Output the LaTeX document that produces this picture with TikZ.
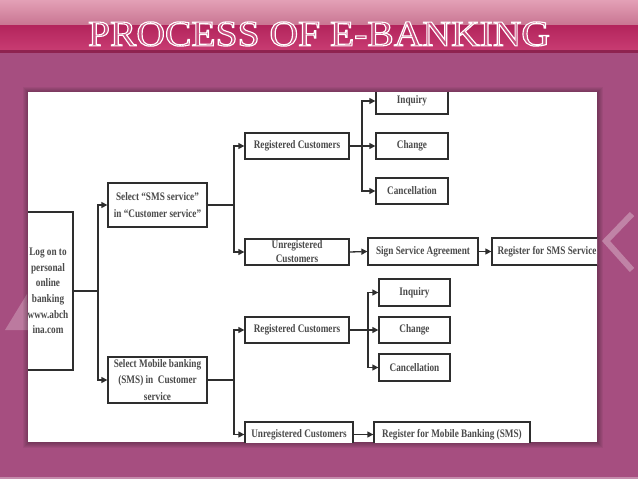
\documentclass[tikz,border=0pt]{standalone}
\usepackage{fontspec}
\setmainfont{Liberation Serif}
\newfontfamily\boxfont[FakeStretch=0.8]{Liberation Serif}
\usepackage{graphicx}
\usetikzlibrary{arrows.meta}
\definecolor{bgpurple}{HTML}{A64E80}
\definecolor{toplight}{HTML}{E3A0B6}
\definecolor{topmid}{HTML}{C97592}
\definecolor{bandtop}{HTML}{B3245C}
\definecolor{bandbot}{HTML}{C83C72}
\definecolor{banddark}{HTML}{8E2350}
\definecolor{titlefill}{HTML}{C9507F}
\definecolor{boxgray}{HTML}{2E2E2E}
\definecolor{textgray}{HTML}{4A4A4A}
\tikzset{
  box/.style={draw=boxgray, line width=1.3pt, fill=white, text=textgray,
    align=center, inner sep=0pt,
    font=\boxfont\bfseries\fontsize{11.5}{14}\selectfont},
  link/.style={draw=boxgray, line width=1.3pt},
  arr/.style={link, -{Triangle[length=6pt,width=6pt]}}
}
\begin{document}
\begin{tikzpicture}[x=1pt,y=-1pt]
\useasboundingbox (0,0) rectangle (638,479);
% background
\fill[bgpurple] (0,0) rectangle (638,479);
\fill[top color=toplight, bottom color=topmid] (0,0) rectangle (638,25);
\fill[top color=bandtop, bottom color=bandbot] (0,25) rectangle (638,50);
\fill[banddark] (0,50) rectangle (638,52.5);
\fill[white, opacity=0.35] (0,477) rectangle (638,479);
% watermark shapes
\draw[white, opacity=0.3, line width=6pt] (632,214) -- (606,241) -- (632,270);
\fill[white, opacity=0.25] (27,294) -- (5,330) -- (28,330) -- cycle;
% title (outlined text)
\node (title) at (319,34) {\resizebox{462pt}{24pt}{\fontsize{30}{30}\selectfont\color{titlefill}\special{pdf:literal direct 1 1 1 RG 0.9 w 2 Tr}PROCESS OF E-BANKING\special{pdf:literal direct 0 Tr}}};
% panel with shadow
\foreach \d in {1,...,6}
  \fill[black, opacity=0.05] ({28-\d+1},{92-\d+1}) rectangle ({597+\d},{442+\d});
\fill[white] (28,92) rectangle (597,442);
\begin{scope}
\clip (28,92) rectangle (597,442);
% nodes
\node[box, minimum width=50pt, minimum height=158pt,
  font=\boxfont\bfseries\fontsize{11.5}{15.6}\selectfont] (logon) at (48,291)
  {Log on to\\personal\\online\\banking\\www.abch\\ina.com};
\node[box, minimum width=99pt, minimum height=44pt,
  font=\boxfont\bfseries\fontsize{11.5}{17}\selectfont] (sms) at (157.5,205)
  {Select “SMS service”\\in “Customer service”};
\node[box, minimum width=99pt, minimum height=46pt,
  font=\boxfont\bfseries\fontsize{11.5}{16.5}\selectfont] (mob) at (157.5,380)
  {Select Mobile banking\\(SMS) in\ \ Customer\\service};
\node[box, minimum width=104pt, minimum height=26pt] (reg1) at (297,146) {Registered Customers};
\node[box, minimum width=104pt, minimum height=26pt] (unreg1) at (297,252) {Unregistered\\Customers};
\node[box, minimum width=72pt, minimum height=26pt] (inq1) at (412,101) {Inquiry};
\node[box, minimum width=72pt, minimum height=26pt] (chg1) at (412,146) {Change};
\node[box, minimum width=72pt, minimum height=26pt] (can1) at (412,191) {Cancellation};
\node[box, minimum width=110pt, minimum height=27pt] (sign) at (423,251.5) {Sign Service Agreement};
\node[box, minimum width=110pt, minimum height=27pt] (regsms) at (547,251.5) {Register for SMS Service};
\node[box, minimum width=104pt, minimum height=26pt] (reg2) at (297,330) {Registered Customers};
\node[box, minimum width=71pt, minimum height=27pt] (inq2) at (414.5,292.5) {Inquiry};
\node[box, minimum width=71pt, minimum height=26pt] (chg2) at (414.5,330) {Change};
\node[box, minimum width=71pt, minimum height=27pt] (can2) at (414.5,367.5) {Cancellation};
\node[box, minimum width=108pt, minimum height=25pt] (unreg2) at (299,434.5) {Unregistered Customers};
\node[box, minimum width=156pt, minimum height=25pt] (regmob) at (452,434.5) {Register for Mobile Banking (SMS)};
% junctions
\coordinate (j1) at (98,291);
\coordinate (j2) at (234,205);
\coordinate (j3) at (362,146);
\coordinate (j4) at (234,380);
\coordinate (j5) at (368,330);
% connectors
\draw[link] (logon.east) -- (j1);
\draw[arr] (j1) |- (sms.west);
\draw[arr] (j1) |- (mob.west);
\draw[link] (sms.east) -- (j2);
\draw[arr] (j2) |- (reg1.west);
\draw[arr] (j2) |- (unreg1.west);
\draw[link] (reg1.east) -- (j3);
\draw[arr] (j3) |- (inq1.west);
\draw[arr] (j3) -- (chg1.west);
\draw[arr] (j3) |- (can1.west);
\draw[arr] (unreg1.east) -- (sign.west);
\draw[arr] (sign.east) -- (regsms.west);
\draw[link] (mob.east) -- (j4);
\draw[arr] (j4) |- (reg2.west);
\draw[arr] (j4) |- (unreg2.west);
\draw[link] (reg2.east) -- (j5);
\draw[arr] (j5) |- (inq2.west);
\draw[arr] (j5) -- (chg2.west);
\draw[arr] (j5) |- (can2.west);
\draw[arr] (unreg2.east) -- (regmob.west);
\end{scope}
\end{tikzpicture}
\end{document}
